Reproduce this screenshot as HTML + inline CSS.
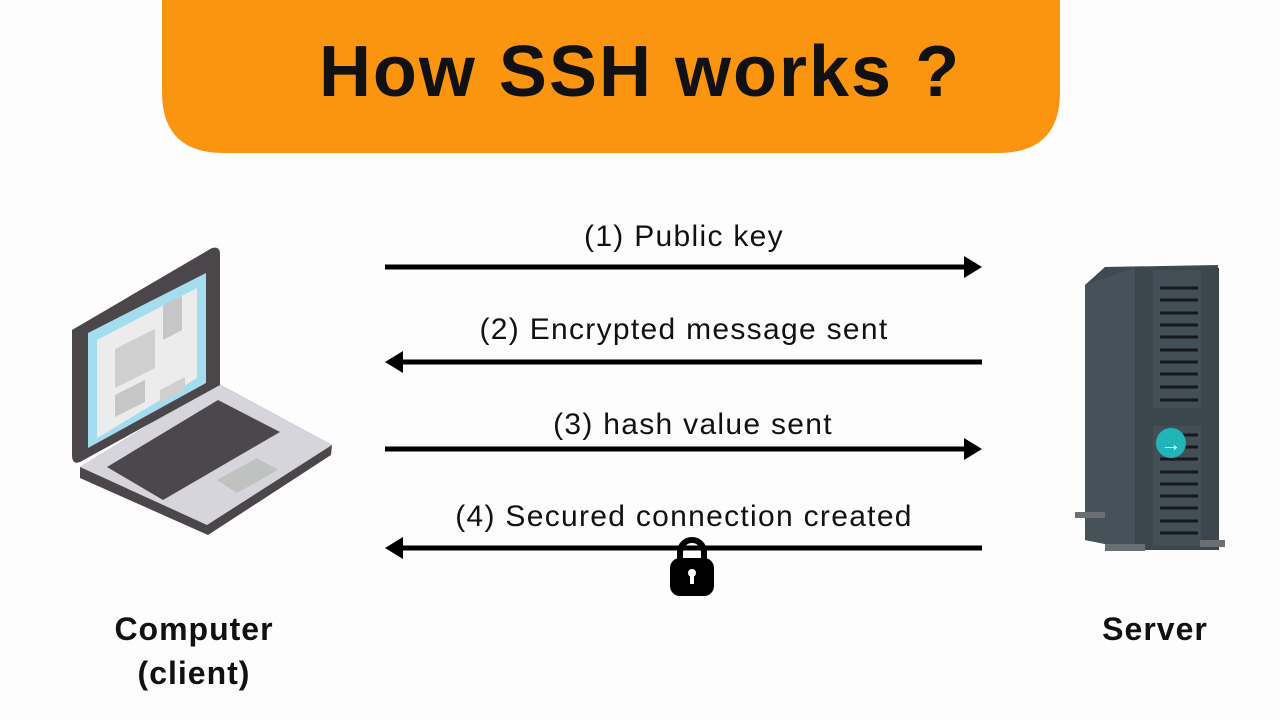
<!DOCTYPE html>
<html><head><style>
html,body{margin:0;padding:0;background:#fff;}
svg{display:block;}
text{font-family:"Liberation Sans",sans-serif;}
</style></head><body>
<svg width="1280" height="720" viewBox="0 0 1280 720">
<rect width="1280" height="720" fill="#fdfdfd"/>
<path d="M162 0 H1060 V92 Q1060 153 998 153 H224 Q162 153 162 92 Z" fill="#fb940f"/>
<text x="640" y="96" text-anchor="middle" font-size="72" font-weight="bold" letter-spacing="2" fill="#111">How SSH works ?</text>

<g stroke="#000" stroke-width="5">
<line x1="385" y1="267" x2="968" y2="267"/>
<line x1="398" y1="362" x2="982" y2="362"/>
<line x1="385" y1="449" x2="968" y2="449"/>
<line x1="398" y1="548" x2="982" y2="548"/>
</g>
<g fill="#000">
<path d="M964 256 L982 267 L964 278 Z"/>
<path d="M403 351 L385 362 L403 373 Z"/>
<path d="M964 438 L982 449 L964 460 Z"/>
<path d="M403 537 L385 548 L403 559 Z"/>
</g>
<g font-size="30" fill="#111" text-anchor="middle" letter-spacing="1.3">
<text x="684" y="246">(1) Public key</text>
<text x="684" y="339">(2) Encrypted message sent</text>
<text x="693" y="434">(3) hash value sent</text>
<text x="684" y="526">(4) Secured connection created</text>
</g>
<!-- lock -->
<path d="M680 560 V552 A12 12 0 0 1 704 552 V560" fill="none" stroke="#000" stroke-width="6"/>
<rect x="670" y="558" width="44" height="38" rx="10" fill="#000"/>
<circle cx="692" cy="573" r="4" fill="#fff"/><rect x="690" y="574" width="4" height="10" fill="#fff"/>

<!-- laptop -->
<path d="M217 383 L332 445 L331 455 L208 535 L80 478 L80 467 Z" fill="#4a4649"/>
<path d="M217 383 L332 445 L207 525 L80 467 Z" fill="#d6d5dc"/>
<path d="M218 400 L280 432 L163 500 L107 467 Z" fill="#4b474a"/>
<path d="M217 480 L257 458 L278 470 L237 493 Z" fill="#c0c2bf"/>
<path d="M72 330 L212 248 Q220 246 220 254 L220 385 L80 462 Q72 465 72 455 Z" fill="#4a4649"/>
<path d="M88 333 L206 273 L206 383 L88 448 Z" fill="#a4dcf0"/>
<path d="M97 340 L197 288 L197 378 L97 438 Z" fill="#ececec"/>
<path d="M115 349 L155 329 L155 368 L115 388 Z" fill="#cfcfcf"/>
<path d="M115 395 L145 380 L145 402 L115 417 Z" fill="#c6c6c6"/>
<path d="M163 305 L182 296 L182 330 L163 340 Z" fill="#c6c6c6"/>
<path d="M160 390 L185 377 L185 390 L160 403 Z" fill="#cfcfcf"/>

<!-- server -->
<path d="M1085 285 L1105 267 L1218 265 L1218 550 L1135 550 L1085 540 Z" fill="#3e4a51"/>
<path d="M1085 285 L1135 268 L1135 550 L1085 540 Z" fill="#465259"/>
<rect x="1135" y="268" width="84" height="282" fill="#3b464d"/>
<rect x="1153" y="270" width="48" height="138" fill="#434f56"/>
<rect x="1153" y="426" width="48" height="120" fill="#434f56"/>
<g stroke="#15191b" stroke-width="3">
<line x1="1160" y1="288" x2="1198" y2="288"/><line x1="1160" y1="300" x2="1198" y2="300"/>
<line x1="1160" y1="313" x2="1198" y2="313"/><line x1="1160" y1="325" x2="1198" y2="325"/>
<line x1="1160" y1="337" x2="1198" y2="337"/><line x1="1160" y1="350" x2="1198" y2="350"/>
<line x1="1160" y1="362" x2="1198" y2="362"/><line x1="1160" y1="374" x2="1198" y2="374"/>
<line x1="1160" y1="387" x2="1198" y2="387"/><line x1="1160" y1="400" x2="1198" y2="400"/>
<line x1="1160" y1="435" x2="1198" y2="435"/><line x1="1160" y1="447" x2="1198" y2="447"/>
<line x1="1160" y1="459" x2="1198" y2="459"/><line x1="1160" y1="472" x2="1198" y2="472"/>
<line x1="1160" y1="484" x2="1198" y2="484"/><line x1="1160" y1="496" x2="1198" y2="496"/>
<line x1="1160" y1="508" x2="1198" y2="508"/><line x1="1160" y1="521" x2="1198" y2="521"/>
<line x1="1160" y1="533" x2="1198" y2="533"/>
</g>
<rect x="1075" y="512" width="30" height="6" fill="#6a6f72"/>
<rect x="1105" y="544" width="40" height="7" fill="#6a6f72"/>
<rect x="1200" y="540" width="25" height="7" fill="#6a6f72"/>
<circle cx="1171" cy="443" r="15" fill="#20b5b8"/>
<text x="1171" y="451" text-anchor="middle" font-size="20" fill="#fff">→</text>

<g font-size="32" font-weight="bold" fill="#111" text-anchor="middle" letter-spacing="1">
<text x="194" y="640">Computer</text>
<text x="194" y="684">(client)</text>
<text x="1155" y="640">Server</text>
</g>
</svg>
</body></html>
